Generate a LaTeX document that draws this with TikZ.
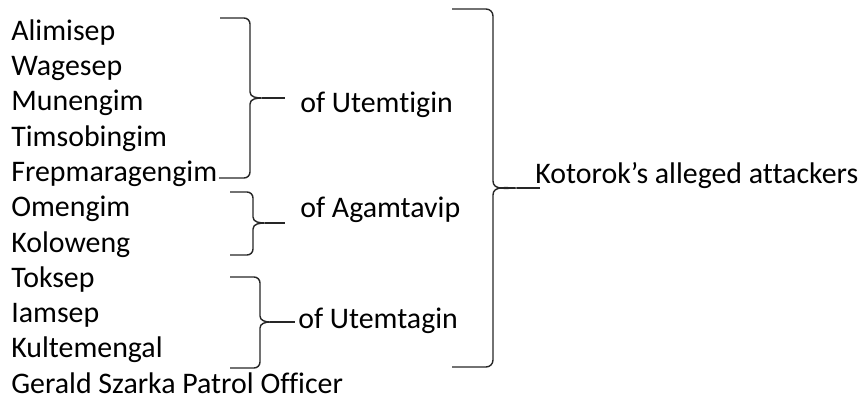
\documentclass[tikz,border=0pt]{standalone}
\usepackage{fontspec}
\setmainfont{Carlito}[Ligatures=NoCommon]
\usetikzlibrary{positioning}

\begin{document}
\begin{tikzpicture}[
  font=\fontsize{17}{20.5}\selectfont,
  who/.style={anchor=base west, inner sep=0pt},
  grp/.style={anchor=base west, inner sep=0pt},
  brace/.style={draw=black!85, line width=0.8pt},
  link/.style={draw=black!85, line width=0.8pt},
]
\useasboundingbox (0,0) rectangle (17.24,8.1);

% ---------------- names ----------------
\node[who] (ali)  at (0.22,7.30) {Alimisep};
\node[who] (wag)  at (0.22,6.59) {Wagesep};
\node[who] (mun)  at (0.22,5.89) {Munengim};
\node[who] (tim)  at (0.22,5.18) {Timsobingim};
\node[who] (fre)  at (0.22,4.48) {Frepmaragengim};
\node[who] (ome)  at (0.22,3.77) {Omengim};
\node[who] (kol)  at (0.22,3.06) {Koloweng};
\node[who] (tok)  at (0.22,2.36) {Toksep};
\node[who] (iam)  at (0.22,1.65) {Iamsep};
\node[who] (kul)  at (0.22,0.95) {Kultemengal};
\node[who] (ger)  at (0.22,0.24) {Gerald Szarka Patrol Officer};

% ---------------- group labels ----------------
\node[grp] (utg) at (6.00,5.86) {of Utemtigin};
\node[grp] (aga) at (6.00,3.76) {of Agamtavip};
\node[grp] (uta) at (5.96,1.54) {of Utemtagin};
\node[grp] (kot) at (10.70,4.44) {Kotorok’s alleged attackers};

% ---------------- braces ----------------
\draw[brace] (4.40,7.74) -- (4.88,7.74) to[out=0,in=90] (5.00,7.62) -- (5.00,6.26)
  to[out=-90,in=180] (5.24,6.14) to[out=180,in=90] (5.00,6.02) -- (5.00,4.66)
  to[out=-90,in=0] (4.88,4.54) -- (4.38,4.54);
\draw[brace] (4.60,4.26) -- (4.94,4.26) to[out=0,in=90] (5.06,4.14) -- (5.06,3.76)
  to[out=-90,in=180] (5.30,3.64) to[out=180,in=90] (5.06,3.52) -- (5.06,3.12)
  to[out=-90,in=0] (4.94,3.00) -- (4.60,3.00);
\draw[brace] (4.60,2.56) -- (5.08,2.56) to[out=0,in=90] (5.20,2.44) -- (5.20,1.78)
  to[out=-90,in=180] (5.40,1.66) to[out=180,in=90] (5.20,1.54) -- (5.20,0.86)
  to[out=-90,in=0] (5.08,0.74) -- (4.60,0.74);
\draw[brace] (9.04,7.92) -- (9.72,7.92) to[out=0,in=90] (9.86,7.78) -- (9.86,4.48)
  to[out=-90,in=180] (10.34,4.34) to[out=180,in=90] (9.86,4.20) -- (9.86,0.90)
  to[out=-90,in=0] (9.72,0.76) -- (9.04,0.76);

% ---------------- tails ----------------
\coordinate (t1) at (5.24,6.14);  \coordinate (e1) at (5.70,6.14);
\coordinate (t2) at (5.30,3.64);  \coordinate (e2) at (5.70,3.64);
\coordinate (t3) at (5.40,1.66);  \coordinate (e3) at (5.90,1.66);
\coordinate (t4) at (10.34,4.34); \coordinate (e4) at (10.80,4.34);
\draw[link] (t1) -- (e1);
\draw[link] (t2) -- (e2);
\draw[link] (t3) -- (e3);
\draw[link] (t4) -- (e4);
\end{tikzpicture}
\end{document}
